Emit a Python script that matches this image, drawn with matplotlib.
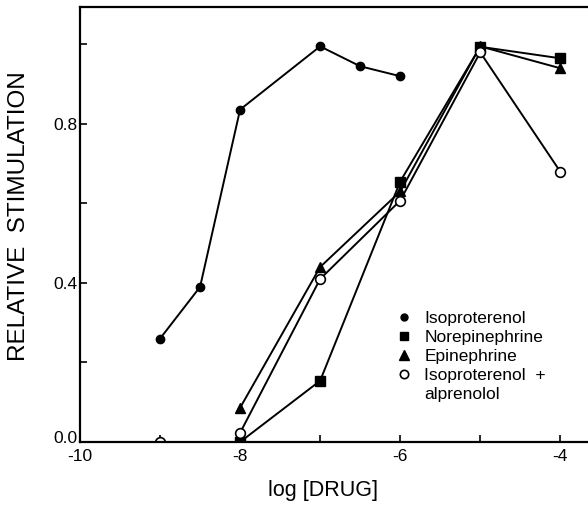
import matplotlib
matplotlib.use('Agg')
import matplotlib.pyplot as plt
import matplotlib.transforms as mtransforms
from matplotlib.lines import Line2D

## values (log molar conc. vs relative stimulation)
iso_x = [-9, -8.5, -8, -7, -6.5, -6]
iso_y = [0.26, 0.39, 0.836, 0.995, 0.945, 0.92]

norepi_x = [-8, -7, -6, -5, -4]
norepi_y = [0.0, 0.154, 0.655, 0.994, 0.965]

epi_x = [-8, -7, -6, -5, -4]
epi_y = [0.086, 0.44, 0.63, 0.995, 0.94]

alp_x = [-9, -8, -7, -6, -5, -4]
alp_y = [0.0, 0.023, 0.41, 0.607, 0.98, 0.68]

legend_labels = ['Isoproterenol', 'Norepinephrine', 'Epinephrine',
                 'Isoproterenol  +', 'alprenolol']

plt.rcParams['font.family'] = ['Liberation Sans', 'DejaVu Sans']
plt.rcParams['axes.unicode_minus'] = False

fig = plt.figure(figsize=(5.88, 5.08), dpi=100)
ax = fig.add_axes([80 / 588, 1 - 442 / 508, 1 - 80 / 588 + 0.01, 435 / 508])

lw = 1.4
ax.plot(iso_x, iso_y, 'k-', marker='o', ms=6, lw=lw)
ax.plot(norepi_x, norepi_y, 'k-', marker='s', ms=6.5, lw=lw)
ax.plot(epi_x, epi_y, 'k-', marker='^', ms=7, lw=lw)
# first open circle (-9) is not joined to the rest
ax.plot(alp_x[1:], alp_y[1:], 'k-', lw=lw)
ax.plot(alp_x, alp_y, 'o', ms=7, mfc='white', mec='k', mew=1.2)

ax.set_xlim(-10, -3.58)
ax.set_ylim(0, 1.094)
ax.set_xticks([-10, -8, -6, -4])
ax.set_xticks([-9, -7, -5], minor=True)
ax.set_yticks([0.0, 0.4, 0.8])
ax.set_yticks([0.2, 0.6, 1.0], minor=True)
ax.set_yticklabels(['0.0', '0.4', '0.8'])
ax.tick_params(which='both', direction='in', length=5, width=1.2, labelsize=12.5)
ax.tick_params(axis='x', pad=5)
ax.tick_params(axis='y', pad=2)

# nudge the 0.0 label up a little so it clears -10
lab0 = ax.get_yticklabels()[0]
lab0.set_transform(lab0.get_transform() + mtransforms.ScaledTranslation(0, 5 / 100, fig.dpi_scale_trans))

for s in ['left', 'bottom', 'top']:
    ax.spines[s].set_linewidth(1.6)
ax.spines['right'].set_visible(False)

ax.set_xlabel('log [DRUG]', fontsize=15.5)
ax.xaxis.set_label_coords(0.472, -0.088)
ax.set_ylabel('RELATIVE  STIMULATION', fontsize=17.5)
ax.yaxis.set_label_coords(-0.097, 0.52)

handles = [Line2D([], [], ls='none', marker='o', ms=5, color='k'),
           Line2D([], [], ls='none', marker='s', ms=6, color='k'),
           Line2D([], [], ls='none', marker='^', ms=6.5, color='k'),
           Line2D([], [], ls='none', marker='o', ms=6, mfc='white', mec='k', mew=1.2),
           Line2D([], [], ls='none')]
ax.legend(handles, legend_labels, loc='upper left', bbox_to_anchor=(388 / 588, 1 - 302 / 508),
          bbox_transform=fig.transFigure, frameon=False, fontsize=12.5,
          handlelength=0.8, handletextpad=0.8, labelspacing=0.22, borderpad=0)

plt.savefig('out.png', dpi=100)
